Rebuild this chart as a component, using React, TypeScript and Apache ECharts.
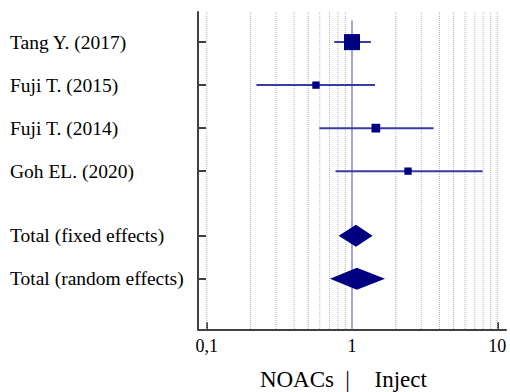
import React, { useEffect, useRef } from "react";
import * as echarts from "echarts";

// Individual studies: odds ratio with 95% CI and relative weight (%)
const STUDIES = ["Tang Y. (2017)", "Fuji T. (2015)", "Fuji T. (2014)", "Goh EL. (2020)"];
const STUDY_OR = [1.0, 0.565, 1.46, 2.43];
const STUDY_LOW = [0.755, 0.22, 0.596, 0.77];
const STUDY_HIGH = [1.35, 1.44, 3.64, 7.92];
const STUDY_WEIGHT = [58.3, 12.2, 17.3, 12.2];

// Pooled estimates
const POOLED = ["Total (fixed effects)", "Total (random effects)"];
const POOLED_OR = [1.065, 1.08];
const POOLED_LOW = [0.809, 0.706];
const POOLED_HIGH = [1.386, 1.687];

// Log-scale axis ticks and minor guides
const X_TICKS = [0.1, 1, 10];
const X_TICK_LABELS = ["0,1", "1", "10"];
const GUIDES = [0.1, 0.2, 0.3, 0.4, 0.5, 0.6, 0.7, 0.8, 0.9, 2, 3, 4, 5, 6, 7, 8, 9, 10];
const NO_EFFECT = 1;

const FONT = "'Liberation Serif', 'Times New Roman', serif";
const NAVY = "#000080";

const lg = (v: number) => Math.log10(v);

export default function App() {
  const ref = useRef<HTMLDivElement>(null);

  useEffect(() => {
    if (!ref.current) return;
    const chart = echarts.init(ref.current, null, { renderer: "svg" });

    const studyRows = STUDIES.map((_, i) => i);
    const pooledRows = POOLED.map((_, j) => STUDIES.length + 0.5 + j);
    const rowValues = [...studyRows, ...pooledRows];
    const rowNames = [...STUDIES, ...POOLED];

    const yMin = -0.7;
    const yMax = 6.677;
    const xPad = 0.0599;
    const xMin = lg(X_TICKS[0]) - xPad;
    const xMax = lg(X_TICKS[X_TICKS.length - 1]) + xPad;

    const rowLabel = (v: number) => {
      const k = rowValues.findIndex((r) => Math.abs(r - v) < 1e-6);
      return k >= 0 ? rowNames[k] : "";
    };
    const xLabel = (v: number) => {
      const k = X_TICKS.findIndex((t) => Math.abs(lg(t) - v) < 1e-6);
      return k >= 0 ? X_TICK_LABELS[k] : "";
    };

    const titleStyle = (text: string, align: string) => ({
      text,
      font: `23px ${FONT}`,
      fill: "#000",
      align,
      verticalAlign: "middle",
    });

    const option: any = {
      animation: false,
      grid: { left: 198, right: 4, top: 12, bottom: 62.7 },
      xAxis: {
        type: "value",
        min: xMin,
        max: xMax,
        axisLine: { show: true, onZero: false, lineStyle: { color: "#404040", width: 2 } },
        axisTick: {
          show: true,
          inside: true,
          length: 7,
          customValues: X_TICKS.map(lg),
          lineStyle: { color: "#404040", width: 2 },
        },
        axisLabel: {
          customValues: X_TICKS.map(lg),
          formatter: xLabel,
          margin: 8,
          fontFamily: FONT,
          fontSize: 18,
          color: "#000",
        },
        splitLine: { show: false },
      },
      yAxis: {
        type: "value",
        inverse: true,
        min: yMin,
        max: yMax,
        axisLine: { show: true, onZero: false, lineStyle: { color: "#404040", width: 2 } },
        axisTick: {
          show: true,
          inside: true,
          length: 8,
          customValues: rowValues,
          lineStyle: { color: "#404040", width: 2 },
        },
        axisLabel: {
          customValues: rowValues,
          formatter: rowLabel,
          align: "left",
          margin: 188,
          fontFamily: FONT,
          fontSize: 19.5,
          color: "#000",
        },
        splitLine: { show: false },
      },
      series: [
        {
          // dotted guides at each log-scale step
          type: "custom",
          silent: true,
          z: 1,
          data: GUIDES.map((v) => [lg(v)]),
          renderItem: (_p: any, api: any) => {
            const a = api.coord([api.value(0), yMin]);
            const b = api.coord([api.value(0), yMax]);
            return {
              type: "line",
              shape: { x1: a[0], y1: a[1], x2: b[0], y2: b[1] },
              style: { stroke: "#b8b8b8", lineWidth: 1, lineDash: [1, 1] },
            };
          },
        },
        {
          // line of no effect
          type: "custom",
          silent: true,
          z: 2,
          data: [[lg(NO_EFFECT)]],
          renderItem: (_p: any, api: any) => {
            const a = api.coord([api.value(0), -0.5]);
            const b = api.coord([api.value(0), yMax]);
            return {
              type: "line",
              shape: { x1: a[0], y1: a[1], x2: b[0], y2: b[1] },
              style: { stroke: "#a4a4d6", lineWidth: 2 },
            };
          },
        },
        {
          // confidence intervals
          type: "custom",
          silent: true,
          z: 3,
          data: STUDIES.map((_, i) => [lg(STUDY_LOW[i]), lg(STUDY_HIGH[i]), studyRows[i]]),
          renderItem: (_p: any, api: any) => {
            const a = api.coord([api.value(0), api.value(2)]);
            const b = api.coord([api.value(1), api.value(2)]);
            return {
              type: "line",
              shape: { x1: a[0], y1: a[1], x2: b[0], y2: b[1] },
              style: { stroke: "#3a3aa4", lineWidth: 2 },
            };
          },
        },
        {
          // point estimates sized by weight
          type: "scatter",
          silent: true,
          z: 4,
          symbol: "rect",
          symbolSize: (_v: any, p: any) => 2.1 * Math.sqrt(STUDY_WEIGHT[p.dataIndex]),
          itemStyle: { color: NAVY, opacity: 1 },
          data: STUDIES.map((_, i) => [lg(STUDY_OR[i]), studyRows[i]]),
        },
        {
          // pooled diamonds
          type: "custom",
          silent: true,
          z: 4,
          data: POOLED.map((_, j) => [lg(POOLED_LOW[j]), lg(POOLED_OR[j]), lg(POOLED_HIGH[j]), pooledRows[j]]),
          renderItem: (_p: any, api: any) => {
            const row = api.value(3);
            const l = api.coord([api.value(0), row]);
            const c = api.coord([api.value(1), row]);
            const h = api.coord([api.value(2), row]);
            const half = 11;
            return {
              type: "polygon",
              shape: {
                points: [
                  [l[0], c[1]],
                  [c[0], c[1] - half],
                  [h[0], c[1]],
                  [c[0], c[1] + half],
                ],
              },
              style: { fill: NAVY },
            };
          },
        },
      ],
      graphic: [
        { type: "text", x: 334, y: 379.5, style: titleStyle("NOACs", "right") },
        { type: "text", x: 347.5, y: 379.5, style: titleStyle("|", "center") },
        { type: "text", x: 374.5, y: 379.5, style: titleStyle("Inject", "left") },
      ],
    };

    chart.setOption(option);
    return () => chart.dispose();
  }, []);

  return (
    <div
      ref={ref}
      style={{ position: "fixed", left: 0, top: 0, width: 510, height: 392, background: "#fff" }}
    />
  );
}
